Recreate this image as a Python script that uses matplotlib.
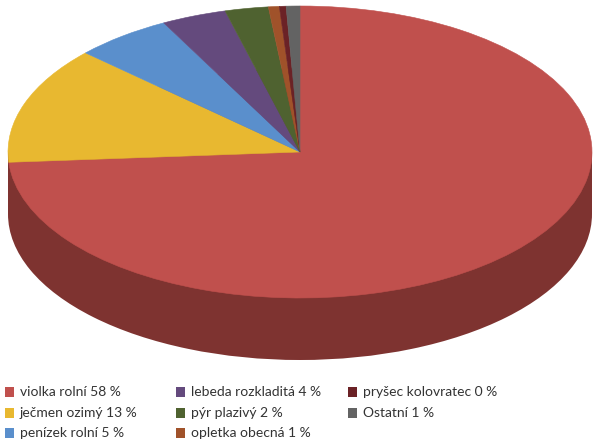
import matplotlib
matplotlib.use("Agg")
import matplotlib.pyplot as plt
from matplotlib.patches import Rectangle

# shares as drawn in the picture (they differ from the printed % for the first one)
shares = [73.9, 13.0, 5.4, 3.6, 2.4, 0.6, 0.37, 0.76]
names = ['violka rolní 58 %', 'ječmen ozimý 13 %', 'penízek rolní 5 %',
         'lebeda rozkladitá 4 %', 'pýr plazivý 2 %', 'opletka obecná 1 %',
         'pryšec kolovratec 0 %', 'Ostatní 1 %']
colors = ['#C0504D', '#E8B830', '#5A8FCC', '#644A7D', '#4F6230', '#A0522A', '#6B2226', '#636363']
side_color = '#7E3330'

W, H = 600, 445
CX, CY, RX, RY, DEPTH = 300, 152, 292, 146, 62

plt.rcParams['font.family'] = ['Lato', 'DejaVu Sans']
fig = plt.figure(figsize=(W / 100, H / 100), dpi=100)

ax = fig.add_axes([0, 0, 1, 1])
# lower ellipse + body first, then the top face
ax.pie([1], colors=[side_color], center=(0, -DEPTH / RY), wedgeprops={'linewidth': 0})
ax.add_patch(Rectangle((-1, -DEPTH / RY), 2, DEPTH / RY, color=side_color, lw=0))
wedges, _ = ax.pie(shares, colors=colors, startangle=90, counterclock=False)
for w in wedges:
    # same colour edge, hides the hairline seams between slices
    w.set_edgecolor(w.get_facecolor())
    w.set_linewidth(0.4)
ax.set_aspect('auto')
ax.set_xlim(-CX / RX, (W - CX) / RX)
ax.set_ylim((CY - H) / RY, CY / RY)
ax.axis('off')

# legend in pixel coordinates
leg = fig.add_axes([0, 0, 1, 1], facecolor='none')
leg.set_xlim(0, W)
leg.set_ylim(H, 0)
leg.axis('off')
col_x = [5, 176, 348]
row_y = [392, 413, 433]
for i, name in enumerate(names):
    x = col_x[i // 3]
    y = row_y[i % 3]
    leg.add_patch(Rectangle((x, y - 5), 9, 10, color=colors[i], lw=0))
    leg.text(x + 15, y, name, fontsize=10, color='#333333', va='center', ha='left')

plt.savefig("out.png", dpi=100)
plt.close()
